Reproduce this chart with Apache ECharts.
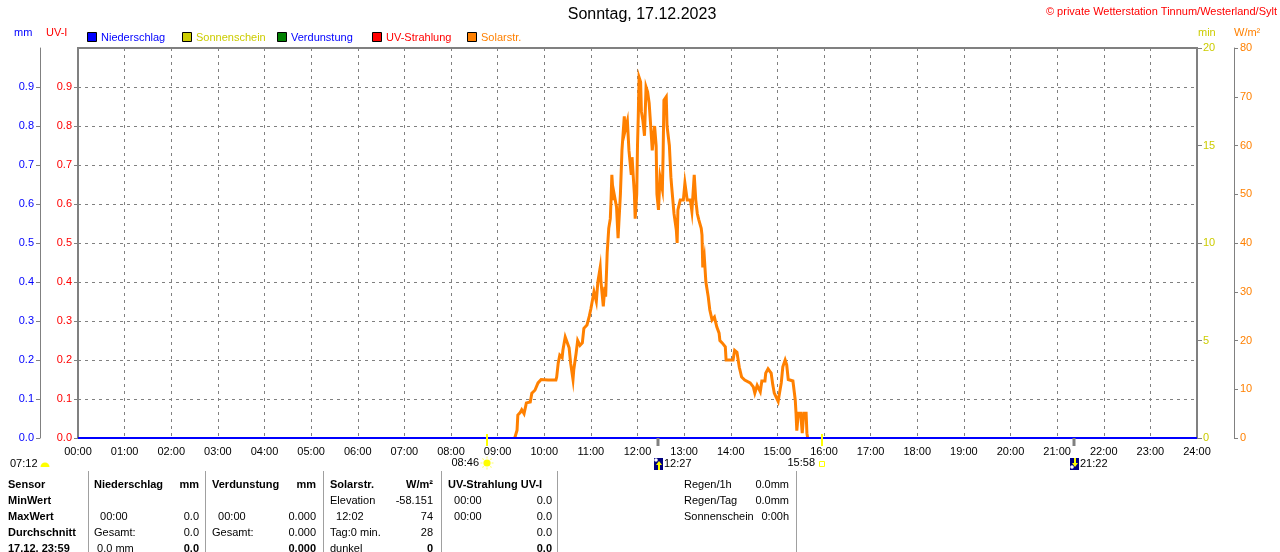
<!DOCTYPE html>
<html>
<head>
<meta charset="utf-8">
<title>Sonntag, 17.12.2023</title>
<script src="https://cdn.jsdelivr.net/npm/echarts@6/dist/echarts.min.js"></script>
<style>
html, body { margin: 0; padding: 0; background: #fff; }
#main { width: 1280px; height: 552px; }
</style>
</head>
<body>
<div id="main"></div>
<script>
// Stundenbeschriftung der Zeitachse
var hourLabels = ['00:00','01:00','02:00','03:00','04:00','05:00','06:00','07:00','08:00','09:00','10:00','11:00',
    '12:00','13:00','14:00','15:00','16:00','17:00','18:00','19:00','20:00','21:00','22:00','23:00','24:00'];

// Solarstrahlung W/m2
var solarTimes = ['09:22','09:24','09:25','09:26','09:29','09:31','09:34','09:37','09:42','09:44','09:48','09:52','09:56',
    '10:05','10:15','10:16','10:18','10:20','10:23','10:24','10:27','10:29','10:32','10:34','10:37','10:38','10:41','10:43',
    '10:46','10:49','10:51','10:55','10:58','11:00','11:04','11:07','11:09','11:12','11:13','11:16','11:18','11:19','11:21',
    '11:23','11:25','11:26','11:27','11:29','11:30','11:33','11:35','11:36','11:38','11:40','11:43','11:44','11:47','11:49',
    '11:52','11:53','11:56','11:57','11:59','12:00','12:01','12:02','12:04','12:05','12:07','12:09','12:11','12:13','12:15',
    '12:17','12:19','12:22','12:24','12:25','12:27','12:29','12:32','12:33','12:34','12:37','12:38','12:41','12:43','12:44',
    '12:47','12:50','12:51','12:52','12:55','12:59','13:01','13:04','13:08','13:10','13:13','13:15','13:17','13:19','13:22',
    '13:23','13:24','13:26','13:28','13:31','13:33','13:36','13:39','13:42','13:45','13:46','13:49','13:53','13:54','14:03',
    '14:05','14:08','14:11','14:14','14:18','14:25','14:29','14:31','14:34','14:38','14:40','14:44','14:45','14:48','14:52',
    '14:54','14:56','14:58','15:01','15:02','15:05','15:07','15:10','15:12','15:14','15:16','15:20','15:23','15:24','15:25',
    '15:27','15:30','15:32','15:34','15:37','15:38','15:39'];
var solarValues = [0,0,1.6,4.7,5.2,5.8,5.0,7.2,7.4,9.2,9.8,11.3,12.0,
    11.9,11.9,12.5,15.4,17,16.5,18,20.7,21,18.5,15.3,12,14,17.4,20,
    19,19.5,22.5,23.2,25,26.5,30,28,32,35,32,27,31,29,38,
    43,45,49,54,48.8,50,47.4,41,44,50,59,66,63,65,59,
    54,57.6,50,45,50,60,66,74,73,67,65,62,72,71,68.7,
    64,59,64,60,50,46.8,53.5,51,58.5,69.3,70,64,60,53.5,51.5,
    46,42.6,40,46.8,48.8,48.8,52.3,48.8,48.8,46.5,54,48.8,46,44.7,43,
    41.6,35,37,32,29,26.3,24.2,24.8,22.8,21.5,20,19.5,18.7,16,16,
    18,17.6,14.5,12.5,11.9,11.3,10.5,9.2,10.8,9.5,11.7,11.7,13.3,14.2,13.3,
    11,9.2,9,7.5,8.5,11.3,14.6,16,15,12,11.9,11.7,7.8,5.1,1.5,
    5.1,5.1,1,5.1,5.1,1,0];

// Niederschlag, Verdunstung, UV, Sonnenschein: ganzer Tag 0
var zeroTimes = ['00:00','24:00'];
var niederschlagValues = [0, 0];
var verdunstungValues = [0, 0];
var uvValues = [0, 0];
var sonnenscheinValues = [0, 0];

// Sonnen- und Mondzeiten
var dawnTime = '07:12';
var eventTimes = ['08:46','12:27','15:58','21:22'];
var eventKinds = ['sunrise','moonrise','sunset','moonset'];

// Tabelle unten
var sensorCol = ['Sensor','MinWert','MaxWert','Durchschnitt','17.12. 23:59'];
var niederCol = [['Niederschlag','mm'],['',''],['  00:00','0.0'],['Gesamt:','0.0'],[' 0.0 mm','0.0']];
var verdunstCol = [['Verdunstung','mm'],['',''],['  00:00','0.000'],['Gesamt:','0.000'],['','0.000']];
var solarCol = [['Solarstr.','W/m\u00b2'],['Elevation','-58.151'],['  12:02','74'],['Tag:0 min.','28'],['dunkel','0']];
var uvCol = [['UV-Strahlung UV-I',''],['  00:00','0.0'],['  00:00','0.0'],['','0.0'],['','0.0']];
var regenCol = [['Regen/1h','0.0mm'],['Regen/Tag','0.0mm'],['Sonnenschein','0:00h']];

var FONT = '"Liberation Sans", Arial, sans-serif';

function toMin(s) {
    var p = s.split(':');
    return parseInt(p[0], 10) * 60 + parseInt(p[1], 10);
}
function pairs(times, values) {
    var out = [];
    for (var i = 0; i < times.length; i++) {
        out.push([toMin(times[i]), values[i]]);
    }
    return out;
}

var myChart = echarts.init(document.getElementById('main'));

var option = {
    animation: false,
    backgroundColor: '#ffffff',
    grid: {
        left: 78, right: 83, top: 48, bottom: 114,
        show: true, borderColor: '#808080', borderWidth: 2,
        outerBoundsMode: 'none'
    },
    xAxis: {
        type: 'value', min: 0, max: 1440, interval: 60,
        axisLine: { show: false },
        axisTick: { show: false },
        axisLabel: {
            color: '#000', fontSize: 11, fontFamily: FONT, margin: 8,
            formatter: function (v) { return hourLabels[Math.round(v / 60)]; }
        },
        splitLine: { show: true, lineStyle: { color: '#808080', type: [3, 4], width: 1 } }
    },
    yAxis: [
        {   // UV-I
            type: 'value', position: 'left', min: 0, max: 1, interval: 0.1,
            axisLine: { show: false },
            axisTick: { show: true, length: 4, lineStyle: { color: '#808080' } },
            axisLabel: {
                color: '#ff0000', fontSize: 11, fontFamily: FONT, margin: 6, showMaxLabel: false,
                formatter: function (v) { return v.toFixed(1); }
            },
            splitLine: { show: true, lineStyle: { color: '#808080', type: [3, 4], width: 1 } }
        },
        {   // mm
            type: 'value', position: 'left', offset: 38, min: 0, max: 1, interval: 0.1,
            axisLine: { show: true, lineStyle: { color: '#808080', width: 1 } },
            axisTick: { show: true, length: 4, lineStyle: { color: '#808080' } },
            axisLabel: {
                color: '#0000ff', fontSize: 11, fontFamily: FONT, margin: 6, showMaxLabel: false,
                formatter: function (v) { return v.toFixed(1); }
            },
            splitLine: { show: false }
        },
        {   // min
            type: 'value', position: 'right', min: 0, max: 20, interval: 5,
            axisLine: { show: false },
            axisTick: { show: true, length: 5, lineStyle: { color: '#808080' } },
            axisLabel: { color: '#cccc00', fontSize: 11, fontFamily: FONT, margin: 6 },
            splitLine: { show: false }
        },
        {   // W/m2
            type: 'value', position: 'right', offset: 37, min: 0, max: 80, interval: 10,
            axisLine: { show: true, lineStyle: { color: '#808080', width: 1 } },
            axisTick: { show: true, length: 4, lineStyle: { color: '#808080' } },
            axisLabel: { color: '#ff8000', fontSize: 11, fontFamily: FONT, margin: 6 },
            splitLine: { show: false }
        }
    ],
    series: [
        {
            name: 'Sonnenschein', type: 'line', yAxisIndex: 2, showSymbol: false, z: 3,
            data: pairs(zeroTimes, sonnenscheinValues),
            lineStyle: { color: '#cccc00', width: 2 }
        },
        {
            name: 'Verdunstung', type: 'line', yAxisIndex: 1, showSymbol: false, z: 3,
            data: pairs(zeroTimes, verdunstungValues),
            lineStyle: { color: '#008000', width: 2 }
        },
        {
            name: 'UV-Strahlung', type: 'line', yAxisIndex: 0, showSymbol: false, z: 3,
            data: pairs(zeroTimes, uvValues),
            lineStyle: { color: '#ff0000', width: 2 }
        },
        {
            name: 'Solarstr.', type: 'line', yAxisIndex: 3, showSymbol: false, z: 4,
            data: pairs(solarTimes, solarValues),
            lineStyle: { color: '#ff8000', width: 3, join: 'miter' }
        },
        {
            name: 'Niederschlag', type: 'line', yAxisIndex: 1, showSymbol: false, z: 5,
            data: pairs(zeroTimes, niederschlagValues),
            lineStyle: { color: '#0000ff', width: 2 }
        }
    ]
};

myChart.setOption(option);

// Texte, Legende, Tabelle und Markierungen
var g = [];
function txt(s, x, y, color, align, bold, size) {
    g.push({
        type: 'text', x: x, y: y, silent: true, z: 10,
        style: {
            text: s, fill: color || '#000', textAlign: align || 'left', textVerticalAlign: 'middle',
            font: (bold ? 'bold ' : '') + (size || 11) + 'px ' + FONT
        }
    });
}
function seg(x1, y1, x2, y2, color, w) {
    g.push({ type: 'line', silent: true, z: 10, shape: { x1: x1, y1: y1, x2: x2, y2: y2 }, style: { stroke: color, lineWidth: w } });
}
function vline(x, y1, y2, color, w) {
    seg(x, y1, x, y2, color, w);
}

txt('Sonntag, 17.12.2023', 642, 15, '#000', 'center', false, 16);
txt('\u00a9 private Wetterstation Tinnum/Westerland/Sylt', 1277, 12, '#ff0000', 'right');
txt('mm', 14, 33, '#0000ff');
txt('UV-I', 46, 33, '#ff0000');
txt('min', 1198, 33, '#cccc00');
txt('W/m\u00b2', 1234, 33, '#ff8000');

var legendNames = ['Niederschlag', 'Sonnenschein', 'Verdunstung', 'UV-Strahlung', 'Solarstr.'];
var legendBox = ['#0000ff', '#cccc00', '#008000', '#ff0000', '#ff8000'];
var legendText = ['#0000ff', '#cccc00', '#0000ff', '#ff0000', '#ff8000'];
for (var i = 0; i < legendNames.length; i++) {
    var lx = 87 + i * 95;
    g.push({ type: 'rect', silent: true, z: 10, shape: { x: lx + 0.5, y: 32.5, width: 9, height: 9 },
        style: { fill: legendBox[i], stroke: '#000', lineWidth: 1 } });
    txt(legendNames[i], lx + 14, 38, legendText[i]);
}

// Sonnen-/Mondzeiten an der Zeitachse
txt(dawnTime, 10, 464);
g.push({ type: 'sector', silent: true, z: 10, shape: { cx: 45, cy: 467, r0: 0, r: 4.5, startAngle: Math.PI, endAngle: 2 * Math.PI },
    style: { fill: '#ffff00' } });

for (var k = 0; k < eventTimes.length; k++) {
    var ex = Math.round(myChart.convertToPixel({ xAxisIndex: 0 }, toMin(eventTimes[k])));
    var kind = eventKinds[k];
    if (kind === 'sunrise' || kind === 'sunset') {
        vline(ex, 434, 446, '#ffff00', 2);
    } else {
        vline(ex, 438, 446, '#808080', 3);
    }
    if (kind === 'sunrise') {
        for (var a = 0; a < 8; a++) {
            var ang = a * Math.PI / 4;
            seg(ex + Math.cos(ang) * 4.5, 463 + Math.sin(ang) * 4.5, ex + Math.cos(ang) * 6.5, 463 + Math.sin(ang) * 6.5, '#ffff80', 1.2);
        }
        g.push({ type: 'circle', silent: true, z: 11, shape: { cx: ex, cy: 463, r: 3.6 }, style: { fill: '#ffff00' } });
        txt(eventTimes[k], ex - 8, 463, '#000', 'right');
    } else if (kind === 'sunset') {
        g.push({ type: 'rect', silent: true, z: 10, shape: { x: ex - 2.5, y: 461.5, width: 5, height: 5 },
            style: { fill: 'none', stroke: '#ffff00', lineWidth: 1 } });
        txt(eventTimes[k], ex - 7, 463, '#000', 'right');
    } else {
        var up = kind === 'moonrise';
        g.push({ type: 'rect', silent: true, z: 10, shape: { x: ex - 4, y: 458, width: 9, height: 12 }, style: { fill: '#000080' } });
        g.push({ type: 'circle', silent: true, z: 11, shape: { cx: ex - 2, cy: up ? 460 : 467, r: 1.8 }, style: { fill: '#ffffff' } });
        g.push({ type: 'polygon', silent: true, z: 11,
            shape: { points: up ? [[ex + 1, 461], [ex + 4, 465], [ex + 2, 465], [ex + 2, 470], [ex, 470], [ex, 465], [ex - 2, 465]]
                                : [[ex + 1, 467], [ex + 4, 463], [ex + 2, 463], [ex + 2, 458], [ex, 458], [ex, 463], [ex - 2, 463]] },
            style: { fill: '#ffff00' } });
        txt(eventTimes[k], ex + 6, 464);
    }
}

// Tabelle
var rowY = [485, 501, 517, 533, 549];
var seps = [88, 205, 323, 441, 557, 796];
for (var s = 0; s < seps.length; s++) {
    vline(seps[s] + 0.5, 471, 552, '#a0a0a0', 1);
}
for (var r = 0; r < sensorCol.length; r++) {
    txt(sensorCol[r], 8, rowY[r], '#000', 'left', true);
}
function tableCol(col, left, right) {
    for (var r = 0; r < col.length; r++) {
        var head = r === 0;
        if (col[r][0]) txt(col[r][0], left, rowY[r], '#000', 'left', head);
        if (col[r][1]) txt(col[r][1], right, rowY[r], '#000', 'right', head || r === 4);
    }
}
tableCol(niederCol, 94, 199);
tableCol(verdunstCol, 212, 316);
tableCol(solarCol, 330, 433);
tableCol(uvCol, 448, 552);
for (var q = 0; q < regenCol.length; q++) {
    txt(regenCol[q][0], 684, rowY[q]);
    txt(regenCol[q][1], 789, rowY[q], '#000', 'right');
}

myChart.setOption({ graphic: g });
</script>
</body>
</html>
